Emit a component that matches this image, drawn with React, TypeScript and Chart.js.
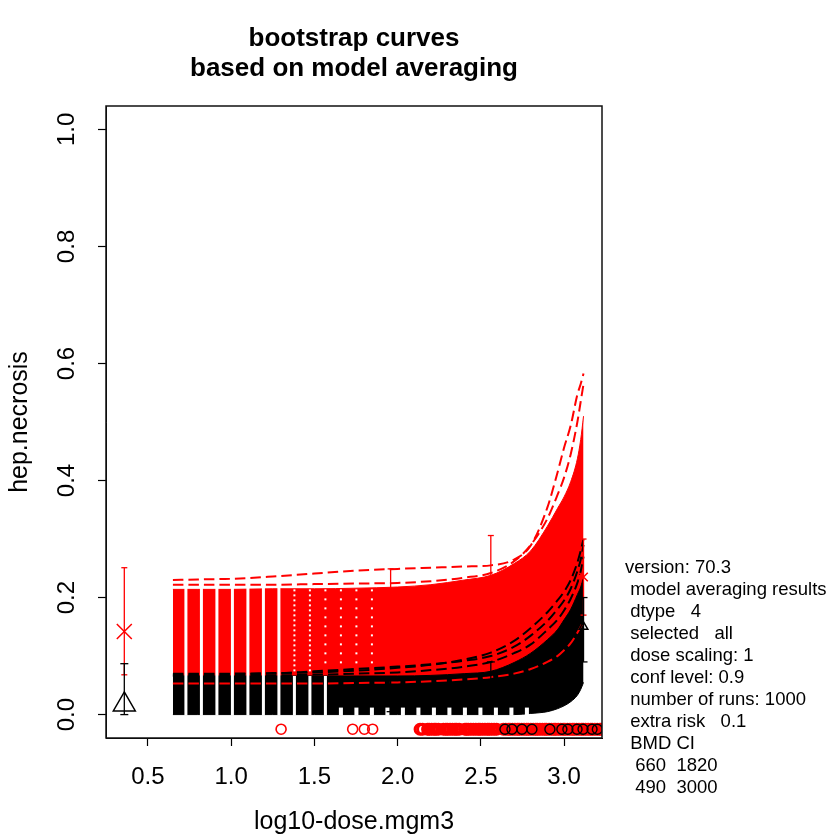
import { useEffect, useRef } from "react";
import { Chart, registerables } from "chart.js";

Chart.register(...registerables);

const FONT = '"Liberation Sans", Arial, Helvetica, sans-serif';

// log10 dose grid on which the bootstrap curve bundle is evaluated
const doseGrid = [0.65, 0.8, 1.0, 1.25, 1.5, 1.75, 2.0, 2.2, 2.4, 2.56, 2.7, 2.8, 2.9, 2.96, 3.0, 3.04, 3.08, 3.1, 3.117];

// upper bundle (red): solid envelope
const redBandUpper = [0.214, 0.214, 0.214, 0.215, 0.215, 0.216, 0.218, 0.222, 0.23, 0.238, 0.258, 0.28, 0.322, 0.352, 0.372, 0.398, 0.437, 0.47, 0.51];
const redBandLower = [0.053, 0.053, 0.053, 0.053, 0.053, 0.054, 0.055, 0.057, 0.06, 0.064, 0.07, 0.078, 0.09, 0.1, 0.11, 0.122, 0.14, 0.15, 0.16];

// lower bundle (black): solid envelope
const blackBandUpper = [0.066, 0.066, 0.066, 0.066, 0.066, 0.066, 0.066, 0.067, 0.07, 0.074, 0.089, 0.105, 0.128, 0.145, 0.162, 0.18, 0.205, 0.218, 0.235];
const blackBandLower = [0, 0, 0, 0, 0, 0, 0, 0, 0, 0, 0, 0.002, 0.005, 0.01, 0.015, 0.022, 0.033, 0.043, 0.055];

// individual curves standing out of the bundles
const redCurveHigh = [0.23, 0.231, 0.232, 0.236, 0.241, 0.246, 0.249, 0.251, 0.253, 0.255, 0.265, 0.289, 0.354, 0.413, 0.456, 0.494, 0.547, 0.565, 0.583];
const redCurveSteep = [0.222, 0.222, 0.222, 0.222, 0.223, 0.224, 0.225, 0.228, 0.234, 0.242, 0.262, 0.29, 0.335, 0.375, 0.405, 0.445, 0.5, 0.535, 0.565];
const blackCurveA = [0.068, 0.068, 0.069, 0.07, 0.074, 0.078, 0.082, 0.086, 0.092, 0.1, 0.116, 0.135, 0.16, 0.18, 0.195, 0.215, 0.245, 0.265, 0.29];
const blackCurveB = [0.066, 0.066, 0.066, 0.067, 0.068, 0.07, 0.072, 0.076, 0.082, 0.09, 0.105, 0.12, 0.145, 0.162, 0.178, 0.198, 0.225, 0.245, 0.27];
const blackCurveC = [0.07, 0.07, 0.07, 0.071, 0.072, 0.075, 0.08, 0.085, 0.094, 0.106, 0.126, 0.148, 0.175, 0.195, 0.21, 0.23, 0.26, 0.28, 0.3];

// dose groups with observed responses and confidence intervals
const groupDose = [0.358, 1.958, 2.56, 3.117];
const redMean = [0.142, 0.18, 0.2, 0.235];
const redLower = [0.068, 0.12, 0.15, 0.17];
const redUpper = [0.251, 0.249, 0.306, 0.3];
const blackMean = [0.017, 0.03, 0.05, 0.15];
const blackLower = [0.0, 0.005, 0.02, 0.09];
const blackUpper = [0.087, 0.06, 0.09, 0.2];

// bootstrap BMD values (log10) shown as a rug under the curves
const rugLevel = -0.025;
const rugRed = [
  1.3, 1.73, 1.8, 1.85,
  2.135, 2.15, 2.18, 2.19, 2.205, 2.22, 2.23, 2.245, 2.275, 2.29, 2.3, 2.315, 2.33, 2.345, 2.355, 2.37,
  2.405, 2.415, 2.425, 2.44, 2.455, 2.47, 2.485, 2.495, 2.51, 2.525, 2.54, 2.55, 2.565, 2.58, 2.595,
  2.635, 2.65, 2.665, 2.675, 2.69, 2.705, 2.72, 2.73, 2.745, 2.76, 2.775, 2.785, 2.8, 2.815, 2.83,
  2.84, 2.855, 2.87, 2.885, 2.895, 2.91, 2.925, 2.94, 2.95, 2.965, 2.98, 2.995, 3.005, 3.02, 3.035,
  3.05, 3.06, 3.075, 3.09, 3.105, 3.115, 3.13, 3.145, 3.16, 3.17, 3.185, 3.2, 3.215, 3.225, 3.24,
];
const rugBlack = [2.645, 2.687, 2.747, 2.807, 2.915, 2.987, 3.023, 3.078, 3.114, 3.168, 3.2];

const xTickValues = [0.5, 1.0, 1.5, 2.0, 2.5, 3.0];
const yTickValues = [0.0, 0.2, 0.4, 0.6, 0.8, 1.0];

const titleLines = ["bootstrap curves", "based on model averaging"];
const infoLines = [
  "version: 70.3",
  " model averaging results",
  " dtype   4",
  " selected   all",
  " dose scaling: 1",
  " conf level: 0.9",
  " number of runs: 1000",
  " extra risk   0.1",
  " BMD CI",
  "  660  1820",
  "  490  3000",
];

const RED = "#ff0000";
const BLACK = "#000000";
const DASH = [10.5, 5];
const STRIPE_W = 3;

const curve = (vals: number[]) => doseGrid.map((x, i) => ({ x, y: vals[i] }));

// rug marks packed closely together merge into a solid strip
const rugWidth = (vals: number[]) => (c: any) => {
  const i = c.dataIndex;
  const v = vals[i];
  const near = vals.some((w, j) => j !== i && Math.abs(w - v) < 0.03);
  return near ? 3 : 1.6;
};

export default function App() {
  const ref = useRef<HTMLCanvasElement | null>(null);

  useEffect(() => {
    if (!ref.current) return;

    const datasets: any[] = [];
    const base = {
      type: "line",
      pointRadius: 0,
      cubicInterpolationMode: "monotone",
    };

    // 0,1: red bundle
    datasets.push({ ...base, data: curve(redBandUpper), borderColor: RED, borderWidth: 1, backgroundColor: RED, fill: { target: 1 }, order: 10 });
    datasets.push({ ...base, data: curve(redBandLower), borderColor: "rgba(0,0,0,0)", borderWidth: 1, fill: false, order: 11 });
    // 2,3: black bundle
    datasets.push({ ...base, data: curve(blackBandUpper), borderColor: BLACK, borderWidth: 1, backgroundColor: BLACK, fill: { target: 3 }, order: 8 });
    datasets.push({ ...base, data: curve(blackBandLower), borderColor: BLACK, borderWidth: 1, fill: false, order: 9 });

    // separate dashed curves
    [blackCurveA, blackCurveB, blackCurveC].forEach((v) =>
      datasets.push({ ...base, data: curve(v), borderColor: BLACK, borderWidth: 2, borderDash: DASH, fill: false, order: 6 })
    );
    [redBandLower, redCurveHigh, redCurveSteep].forEach((v) =>
      datasets.push({ ...base, data: curve(v), borderColor: RED, borderWidth: 2, borderDash: DASH, fill: false, order: 5 })
    );

    // confidence intervals
    groupDose.forEach((x, i) => {
      datasets.push({
        type: "line",
        data: [{ x, y: blackLower[i] }, { x, y: blackUpper[i] }],
        borderColor: BLACK,
        borderWidth: 1.3,
        pointStyle: "line",
        pointRadius: 4,
        pointBorderColor: BLACK,
        pointBorderWidth: 1.3,
        fill: false,
        order: 3,
      });
      datasets.push({
        type: "line",
        data: [{ x, y: redLower[i] }, { x, y: redUpper[i] }],
        borderColor: RED,
        borderWidth: 1.3,
        pointStyle: "line",
        pointRadius: 3,
        pointBorderColor: RED,
        pointBorderWidth: 1.3,
        fill: false,
        order: 3,
      });
    });

    // group means
    datasets.push({
      type: "scatter",
      data: groupDose.map((x, i) => ({ x, y: blackMean[i] })),
      pointStyle: "triangle",
      pointRadius: [12.7, 5, 5, 5],
      pointBorderColor: BLACK,
      pointBackgroundColor: "rgba(0,0,0,0)",
      pointBorderWidth: 1.5,
      order: 2,
    });
    datasets.push({
      type: "scatter",
      data: groupDose.map((x, i) => ({ x, y: redMean[i] })),
      pointStyle: "crossRot",
      pointRadius: [10.6, 6, 6, 6],
      pointBorderColor: RED,
      pointBorderWidth: 1.5,
      order: 2,
    });

    // rug of bootstrap BMDs
    datasets.push({
      type: "scatter",
      data: rugRed.map((x) => ({ x, y: rugLevel })),
      pointStyle: "circle",
      pointRadius: 5,
      pointBorderColor: RED,
      pointBackgroundColor: "rgba(255,255,255,0)",
      pointBorderWidth: rugWidth(rugRed),
      order: 1,
    });
    datasets.push({
      type: "scatter",
      data: rugBlack.map((x) => ({ x, y: rugLevel })),
      pointStyle: "circle",
      pointRadius: 5,
      pointBorderColor: BLACK,
      pointBackgroundColor: "rgba(255,255,255,0)",
      pointBorderWidth: 1.4,
      order: 0,
    });

    // white gaps where the dashes of the many overlapping curves line up
    const drawStripes = (chart: any) => {
      const { ctx, chartArea: a } = chart;
      const xs = chart.scales.x;
      const ys = chart.scales.y;
      const x0 = xs.getPixelForValue(doseGrid[0]);
      const period = DASH[0] + DASH[1];
      const yBase = ys.getPixelForValue(0);
      ctx.save();
      ctx.beginPath();
      ctx.rect(a.left, a.top, a.right - a.left, a.bottom - a.top);
      ctx.clip();
      ctx.fillStyle = "#ffffff";
      for (let k = 0; k < 300; k++) {
        const gx = x0 + k * period + DASH[0] + (DASH[1] - STRIPE_W) / 2;
        const v = xs.getValueForPixel(gx + STRIPE_W / 2);
        if (v > 2.8) break;
        if (v < 1.3) {
          const top = ys.getPixelForValue(0.27);
          ctx.fillRect(gx, top, STRIPE_W, yBase - top + 1);
        } else {
          if (v < 1.65) {
            const top = ys.getPixelForValue(blackBandUpper[0]);
            ctx.fillRect(gx, top, STRIPE_W, yBase - top + 1);
          } else {
            ctx.fillRect(gx - 0.5, yBase - 7, STRIPE_W + 1, 8);
          }
          if (v < 1.9) {
            const yTop = ys.getPixelForValue(redBandUpper[0]);
            const yBot = ys.getPixelForValue(blackBandUpper[0] + 0.01);
            const step = v < 1.55 ? 5 : 9;
            for (let y = yTop; y < yBot; y += step) ctx.fillRect(gx + 0.5, y, 2, 2);
          }
        }
      }
      ctx.restore();
    };

    const rPlot = {
      id: "rPlot",
      afterDatasetDraw(chart: any, args: any) {
        if (args.index === 2) drawStripes(chart);
      },
      afterDraw(chart: any) {
        const { ctx, chartArea: a } = chart;
        ctx.save();
        ctx.strokeStyle = "#111";
        ctx.lineWidth = 1.5;
        ctx.strokeRect(a.left, a.top, a.right - a.left, a.bottom - a.top);

        ctx.fillStyle = "#000";
        ctx.font = `bold 26px ${FONT}`;
        ctx.textAlign = "center";
        ctx.textBaseline = "alphabetic";
        const cx = (a.left + a.right) / 2;
        titleLines.forEach((t, i) => ctx.fillText(t, cx, 46 + i * 30));

        ctx.font = `18.5px ${FONT}`;
        ctx.textAlign = "left";
        ctx.textBaseline = "middle";
        infoLines.forEach((t, i) => ctx.fillText(t, a.right + 23, 568 + i * 22));
        ctx.restore();
      },
    };

    const gridOpts = {
      display: true,
      drawOnChartArea: false,
      drawTicks: true,
      tickLength: 8,
      tickColor: "#000",
      tickWidth: 1.2,
    };

    const chart = new Chart(ref.current, {
      type: "line",
      data: { datasets },
      plugins: [rPlot],
      options: {
        animation: false,
        responsive: false,
        devicePixelRatio: 1,
        events: [],
        layout: { padding: { top: 106, right: 231, left: 0, bottom: 0 } },
        plugins: {
          legend: { display: false },
          tooltip: { enabled: false },
          title: { display: false },
        },
        scales: {
          x: {
            type: "linear",
            min: 0.248,
            max: 3.228,
            afterBuildTicks: (s: any) => {
              s.ticks = xTickValues.map((value) => ({ value }));
            },
            afterFit: (s: any) => {
              s.height = 99;
            },
            ticks: {
              font: { family: FONT, size: 24 },
              color: "#000",
              padding: 17,
              autoSkip: false,
              maxRotation: 0,
              callback: (v: any) => Number(v).toFixed(1),
            },
            grid: gridOpts,
            border: { display: true, color: "#000", width: 1 },
            title: {
              display: true,
              text: "log10-dose.mgm3",
              color: "#000",
              font: { family: FONT, size: 25 },
              padding: { top: 0, bottom: 0 },
            },
          },
          y: {
            type: "linear",
            min: -0.04,
            max: 1.04,
            afterBuildTicks: (s: any) => {
              s.ticks = yTickValues.map((value) => ({ value }));
            },
            afterFit: (s: any) => {
              s.width = 106;
            },
            ticks: {
              font: { family: FONT, size: 24 },
              color: "#000",
              padding: 14,
              autoSkip: false,
              minRotation: 90,
              maxRotation: 90,
              crossAlign: "center",
              callback: (v: any) => Number(v).toFixed(1),
            },
            grid: gridOpts,
            border: { display: true, color: "#000", width: 1 },
            title: {
              display: true,
              text: "hep.necrosis",
              color: "#000",
              font: { family: FONT, size: 25 },
              padding: { top: 5, bottom: 0 },
            },
          },
        },
      } as any,
    } as any);

    return () => chart.destroy();
  }, []);

  return (
    <div style={{ position: "absolute", left: 0, top: 0, width: 833, height: 837, background: "#fff" }}>
      <canvas ref={ref} width={833} height={837} style={{ display: "block" }} />
    </div>
  );
}
